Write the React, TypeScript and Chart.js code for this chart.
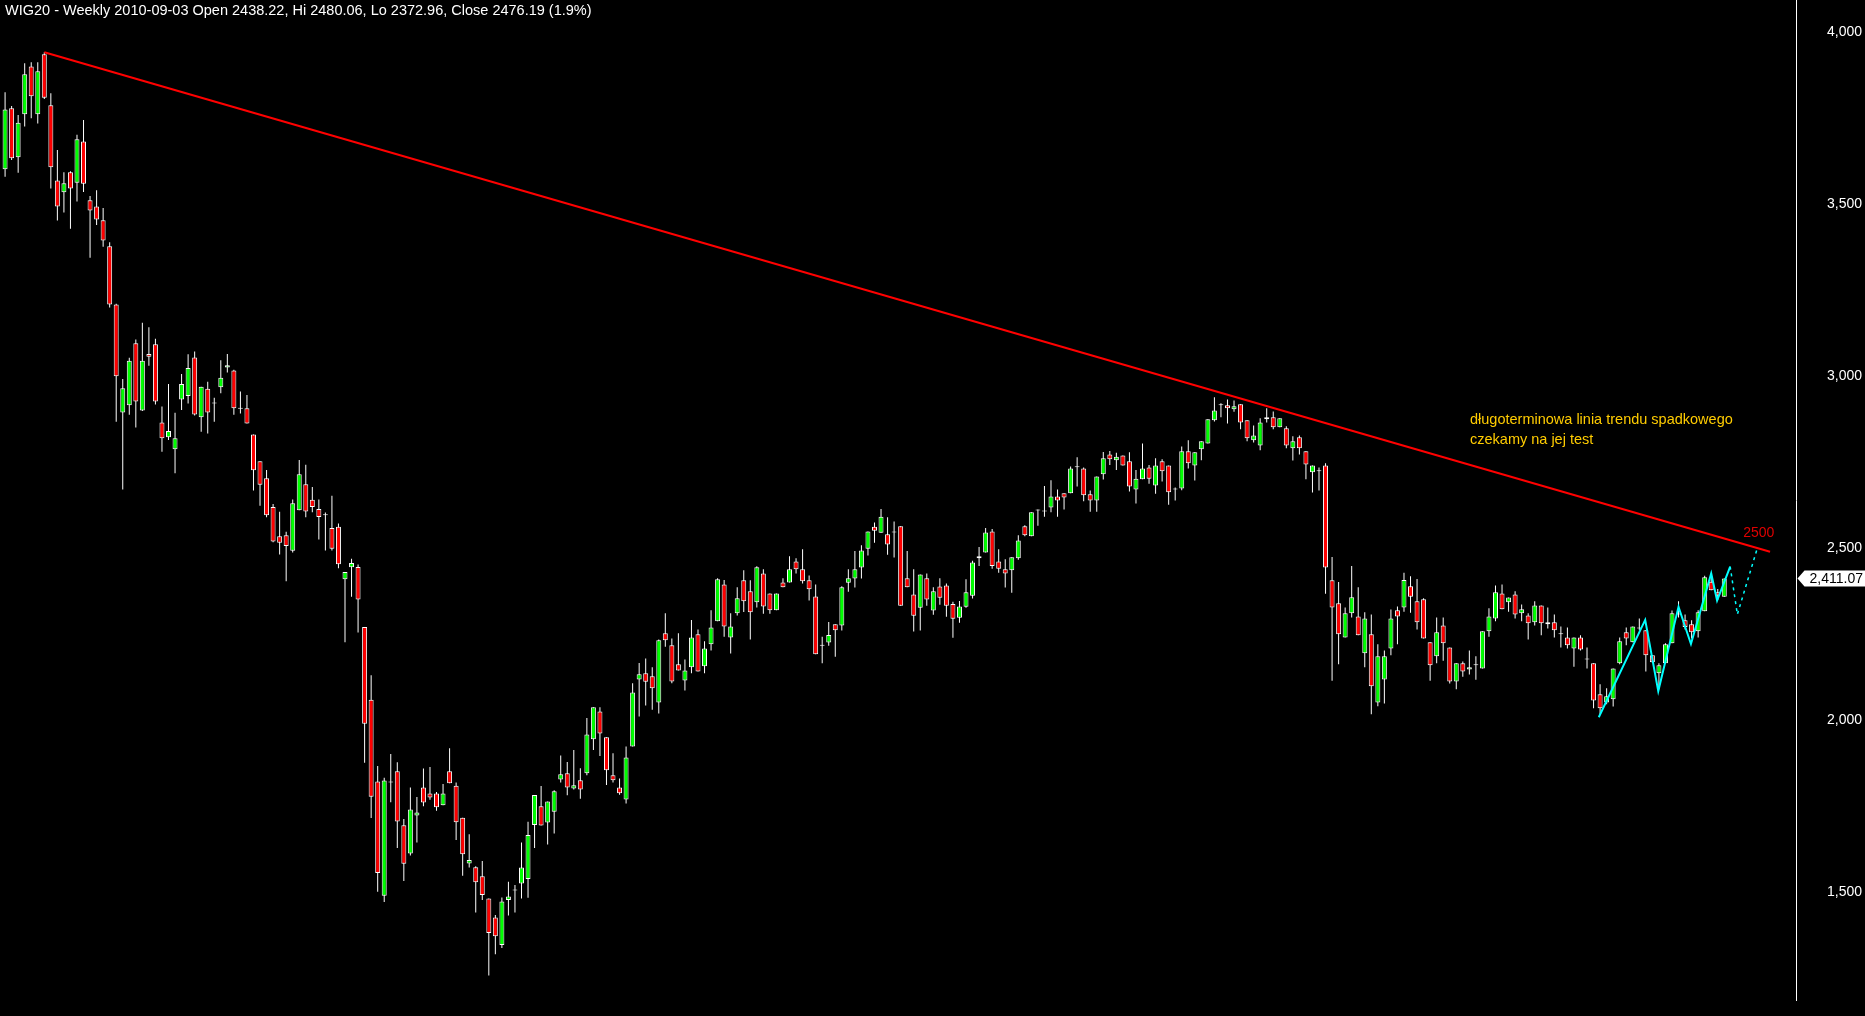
import React, { useEffect, useRef } from 'react';
import { Chart, registerables } from 'chart.js';

Chart.register(...registerables);

// Weekly WIG20 candles, index 0 = first week shown
const OPEN = [
  3601, 3778, 3636, 3761, 3900, 3761, 3935, 3787, 3568, 3534,
  3592, 3562, 3682, 3511, 3493, 3453, 3377, 3208, 2894, 2915,
  3095, 2900, 3064, 3092, 2865, 2822, 2787, 2932, 2942, 3054,
  2880, 2963, 2922, 2967, 3025, 3016, 2905, 2906, 2830, 2752,
  2703, 2619, 2534, 2537, 2492, 2610, 2685, 2640, 2613, 2595,
  2558, 2562, 2409, 2444, 2445, 2270, 2059, 1821, 1489, 1818,
  1851, 1694, 1612, 1722, 1804, 1786, 1786, 1752, 1851, 1809,
  1716, 1583, 1572, 1546, 1481, 1426, 1346, 1477, 1504, 1525,
  1538, 1695, 1749, 1702, 1733, 1827, 1845, 1801, 1825, 1845,
  1944, 2025, 1950, 1839, 1804, 1769, 1923, 2118, 2136, 2127,
  2051, 2252, 2217, 2162, 2115, 2153, 2249, 2156, 2220, 2287,
  2394, 2240, 2310, 2406, 2374, 2342, 2426, 2368, 2319, 2400,
  2400, 2461, 2438, 2406, 2359, 2216, 2225, 2278, 2275, 2399,
  2411, 2443, 2498, 2562, 2544, 2540, 2545, 2563, 2412, 2365,
  2326, 2412, 2318, 2388, 2391, 2337, 2297, 2329, 2361, 2476,
  2487, 2548, 2461, 2438, 2435, 2470, 2563, 2534, 2609, 2606,
  2618, 2650, 2659, 2659, 2735, 2731, 2656, 2638, 2714, 2772,
  2755, 2769, 2752, 2670, 2700, 2734, 2682, 2752, 2740, 2670,
  2673, 2781, 2740, 2787, 2804, 2871, 2915, 2915, 2903, 2918,
  2871, 2813, 2798, 2874, 2880, 2851, 2848, 2790, 2822, 2781,
  2720, 2723, 2740, 2406, 2339, 2240, 2310, 2301, 2194, 2249,
  2051, 2118, 2208, 2319, 2327, 2389, 2345, 2351, 2226, 2185,
  2275, 2211, 2112, 2165, 2147, 2159, 2150, 2258, 2295, 2368,
  2342, 2365, 2310, 2304, 2284, 2333, 2278, 2284, 2249, 2240,
  2208, 2240, 2176, 2165, 2075, 2051, 2060, 2165, 2255, 2226,
  2266, 2261, 2188, 2136, 2165, 2223, 2307, 2290, 2278, 2258,
  2316, 2402, 2371, 2358,
];
const HIGH = [
  3825, 3785, 3759, 3909, 3912, 3912, 3941, 3822, 3657, 3592,
  3595, 3701, 3744, 3523, 3540, 3488, 3389, 3210, 2991, 3053,
  3106, 3155, 3142, 3108, 2911, 2977, 2893, 3006, 3063, 3071,
  2969, 2983, 2937, 3046, 3064, 3018, 2955, 2945, 2830, 2752,
  2727, 2628, 2605, 2547, 2641, 2756, 2742, 2677, 2641, 2603,
  2652, 2571, 2430, 2469, 2452, 2270, 2130, 1866, 1832, 1901,
  1877, 1712, 1804, 1776, 1859, 1863, 1791, 1814, 1918, 1818,
  1716, 1668, 1575, 1590, 1481, 1433, 1484, 1530, 1520, 1644,
  1704, 1782, 1808, 1763, 1796, 1897, 1878, 1913, 1860, 2006,
  2037, 2037, 1950, 1903, 1830, 1923, 2107, 2166, 2179, 2153,
  2234, 2310, 2237, 2252, 2176, 2291, 2263, 2229, 2319, 2412,
  2407, 2310, 2386, 2435, 2406, 2447, 2438, 2368, 2368, 2412,
  2476, 2470, 2496, 2420, 2394, 2242, 2285, 2278, 2389, 2438,
  2491, 2508, 2548, 2574, 2613, 2589, 2577, 2563, 2491, 2438,
  2423, 2426, 2386, 2412, 2397, 2344, 2346, 2409, 2463, 2503,
  2558, 2555, 2496, 2467, 2473, 2537, 2566, 2604, 2612, 2680,
  2697, 2670, 2659, 2737, 2764, 2734, 2667, 2708, 2779, 2782,
  2777, 2769, 2778, 2727, 2804, 2741, 2761, 2758, 2740, 2676,
  2795, 2813, 2778, 2810, 2874, 2938, 2921, 2932, 2929, 2918,
  2871, 2856, 2877, 2906, 2897, 2877, 2854, 2825, 2827, 2781,
  2740, 2734, 2746, 2474, 2401, 2327, 2448, 2386, 2313, 2307,
  2220, 2202, 2321, 2330, 2428, 2418, 2410, 2354, 2226, 2298,
  2298, 2211, 2165, 2170, 2202, 2185, 2258, 2325, 2391, 2394,
  2356, 2374, 2336, 2310, 2345, 2333, 2327, 2307, 2272, 2269,
  2240, 2246, 2211, 2165, 2104, 2092, 2150, 2240, 2269, 2272,
  2295, 2261, 2188, 2165, 2223, 2318, 2345, 2307, 2290, 2319,
  2419, 2426, 2381, 2411.07,
];
const LOW = [
  3579, 3628, 3591, 3725, 3749, 3734, 3805, 3545, 3452, 3475,
  3428, 3507, 3535, 3344, 3439, 3376, 3199, 2867, 2670, 2887,
  2850, 2898, 3030, 2917, 2780, 2814, 2717, 2901, 2920, 2885,
  2838, 2833, 2867, 2950, 3010, 2887, 2891, 2862, 2667, 2623,
  2589, 2517, 2481, 2403, 2487, 2610, 2589, 2604, 2525, 2493,
  2493, 2441, 2226, 2358, 2254, 1876, 1715, 1501, 1471, 1761,
  1628, 1532, 1606, 1644, 1749, 1768, 1736, 1752, 1816, 1651,
  1547, 1571, 1440, 1477, 1257, 1319, 1337, 1432, 1440, 1481,
  1483, 1628, 1693, 1638, 1670, 1818, 1781, 1798, 1771, 1839,
  1913, 1895, 1811, 1818, 1783, 1757, 1923, 2010, 2042, 2030,
  2019, 2213, 2107, 2144, 2086, 2136, 2141, 2136, 2202, 2287,
  2242, 2193, 2304, 2314, 2234, 2327, 2309, 2309, 2319, 2386,
  2400, 2426, 2397, 2347, 2191, 2165, 2216, 2184, 2260, 2373,
  2385, 2411, 2478, 2515, 2544, 2480, 2472, 2332, 2386, 2257,
  2260, 2332, 2306, 2335, 2300, 2239, 2283, 2326, 2353, 2448,
  2487, 2440, 2428, 2385, 2370, 2466, 2534, 2534, 2565, 2591,
  2604, 2591, 2612, 2659, 2679, 2636, 2605, 2605, 2699, 2741,
  2727, 2740, 2664, 2629, 2700, 2687, 2658, 2693, 2626, 2638,
  2668, 2731, 2696, 2755, 2804, 2868, 2880, 2862, 2896, 2845,
  2810, 2807, 2784, 2865, 2845, 2851, 2790, 2754, 2772, 2700,
  2661, 2667, 2367, 2114, 2162, 2240, 2298, 2246, 2153, 2017,
  2040, 2048, 2188, 2220, 2315, 2312, 2263, 2237, 2114, 2165,
  2172, 2106, 2089, 2126, 2132, 2117, 2150, 2242, 2287, 2322,
  2315, 2295, 2287, 2234, 2275, 2246, 2266, 2240, 2211, 2208,
  2155, 2202, 2150, 2034, 2016, 2046, 2039, 2162, 2217, 2226,
  2261, 2141, 2166, 2089, 2165, 2223, 2298, 2263, 2237, 2240,
  2316, 2377, 2349, 2358,
];
const CLOSE = [
  3775, 3633, 3736, 3877, 3813, 3886, 3809, 3607, 3493, 3560,
  3545, 3688, 3559, 3481, 3455, 3394, 3208, 2999, 2964, 3044,
  2926, 3044, 3056, 2926, 2819, 2840, 2819, 2977, 3023, 2888,
  2969, 2894, 2920, 2995, 3031, 2906, 2905, 2862, 2726, 2684,
  2595, 2519, 2515, 2506, 2630, 2714, 2606, 2619, 2590, 2595,
  2498, 2453, 2430, 2456, 2350, 1989, 1777, 1555, 1824, 1818,
  1705, 1582, 1740, 1731, 1760, 1775, 1746, 1786, 1816, 1703,
  1610, 1593, 1528, 1491, 1381, 1371, 1472, 1487, 1504, 1571,
  1666, 1782, 1693, 1763, 1793, 1842, 1804, 1810, 1798, 1958,
  2037, 1961, 1854, 1825, 1787, 1891, 2080, 2133, 2111, 2092,
  2232, 2232, 2112, 2144, 2144, 2240, 2141, 2208, 2269, 2409,
  2272, 2272, 2354, 2345, 2313, 2444, 2330, 2319, 2368, 2386,
  2438, 2438, 2403, 2380, 2191, 2216, 2247, 2261, 2386, 2412,
  2438, 2493, 2548, 2550, 2591, 2510, 2545, 2332, 2386, 2303,
  2423, 2350, 2374, 2355, 2332, 2294, 2330, 2371, 2458, 2470,
  2545, 2448, 2440, 2426, 2473, 2522, 2537, 2604, 2609, 2606,
  2650, 2638, 2647, 2731, 2735, 2653, 2638, 2708, 2761, 2758,
  2765, 2740, 2679, 2701, 2731, 2701, 2740, 2723, 2662, 2670,
  2781, 2746, 2778, 2810, 2874, 2900, 2915, 2906, 2912, 2865,
  2819, 2827, 2865, 2880, 2851, 2877, 2798, 2810, 2790, 2743,
  2740, 2723, 2443, 2327, 2249, 2310, 2357, 2246, 2295, 2098,
  2185, 2185, 2295, 2301, 2407, 2358, 2284, 2237, 2159, 2255,
  2223, 2112, 2165, 2141, 2153, 2159, 2258, 2301, 2371, 2322,
  2356, 2307, 2322, 2281, 2333, 2281, 2284, 2261, 2249, 2217,
  2240, 2205, 2176, 2057, 2034, 2069, 2150, 2229, 2237, 2272,
  2266, 2188, 2168, 2159, 2220, 2310, 2307, 2270, 2255, 2313,
  2415, 2377, 2362, 2411.07,
];

const Y_TICKS = [1500, 2000, 2500, 3000, 3500, 4000];
const Y_MIN = 1186;
const Y_MAX = 4093;
const X_MIN = -0.777;
const X_MAX = 273.97;

// long-term downtrend line (week index, level)
const TREND_X = [6, 270];
const TREND_Y = [3941, 2489];
// cyan wave drawn on the chart, then its dotted projection
const WAVE_X = [243.8, 250.9, 252.9, 256, 257.9, 261, 261.9, 263.9];
const WAVE_Y = [2008, 2291, 2084, 2329, 2221, 2426, 2347, 2446];
const PROJ_X = [263.9, 265, 268];
const PROJ_Y = [2446, 2307, 2496];

const TITLE = 'WIG20 - Weekly 2010-09-03 Open 2438.22, Hi 2480.06, Lo 2372.96, Close 2476.19 (1.9%)';
const NOTE_LINES = ['długoterminowa linia trendu spadkowego', 'czekamy na jej test'];
const NOTE_AT = { x: 224.1, y: 2860 };
const LEVEL_TEXT = '2500';
const LEVEL_AT = { x: 265.9, y: 2533 };
const LAST_PRICE = 2411.07;

const GREEN = '#00ff00';
const RED = '#ff0000';
const FONT = '"Liberation Sans", Arial, sans-serif';

const overlayPlugin = {
  id: 'overlay',
  afterDraw(chart: any) {
    const { ctx, chartArea, scales } = chart;
    const x = scales.x;
    const y = scales.y;
    ctx.save();
    ctx.textAlign = 'left';
    ctx.textBaseline = 'alphabetic';
    // title
    ctx.font = '14.5px ' + FONT;
    ctx.fillStyle = '#ffffff';
    ctx.fillText(TITLE, 5, 15);
    // note
    ctx.font = '14.5px ' + FONT;
    ctx.fillStyle = '#ffcc00';
    const nx = x.getPixelForValue(NOTE_AT.x);
    const ny = y.getPixelForValue(NOTE_AT.y);
    NOTE_LINES.forEach((t, i) => ctx.fillText(t, nx, ny + i * 19.5));
    // level label
    ctx.font = '14px ' + FONT;
    ctx.fillStyle = '#e00000';
    ctx.fillText(LEVEL_TEXT, x.getPixelForValue(LEVEL_AT.x), y.getPixelForValue(LEVEL_AT.y));
    // last price marker
    const py = y.getPixelForValue(LAST_PRICE);
    const tip = chartArea.right + 1.5;
    ctx.fillStyle = '#ffffff';
    ctx.beginPath();
    ctx.moveTo(tip, py);
    ctx.lineTo(tip + 7, py - 8);
    ctx.lineTo(chart.width, py - 8);
    ctx.lineTo(chart.width, py + 8);
    ctx.lineTo(tip + 7, py + 8);
    ctx.closePath();
    ctx.fill();
    ctx.fillStyle = '#000000';
    ctx.font = '14px ' + FONT;
    ctx.textBaseline = 'middle';
    ctx.fillText(LAST_PRICE.toLocaleString('en-US', { minimumFractionDigits: 2 }), tip + 12, py + 1);
    ctx.restore();
  },
};

export default function App() {
  const ref = useRef<HTMLCanvasElement | null>(null);

  useEffect(() => {
    document.body.style.margin = '0';
    document.body.style.background = '#000000';
    const canvas = ref.current;
    if (!canvas) return;
    const idx = OPEN.map((_, i) => i);
    const bodyColors = OPEN.map((o, i) => (CLOSE[i] > o ? GREEN : CLOSE[i] < o ? RED : '#ffffff'));

    const chart = new Chart(canvas, {
      type: 'bar',
      data: {
        datasets: [
          {
            type: 'line',
            data: PROJ_X.map((v, i) => ({ x: v, y: PROJ_Y[i] })),
            borderColor: '#00ffff',
            borderWidth: 1.5,
            borderDash: [3, 4],
            pointRadius: 0,
            order: 1,
          } as any,
          {
            type: 'line',
            data: WAVE_X.map((v, i) => ({ x: v, y: WAVE_Y[i] })),
            borderColor: '#00ffff',
            borderWidth: 2,
            pointRadius: 0,
            order: 1,
          } as any,
          {
            type: 'line',
            data: TREND_X.map((v, i) => ({ x: v, y: TREND_Y[i] })),
            borderColor: '#ff0000',
            borderWidth: 2,
            pointRadius: 0,
            order: 2,
          } as any,
          {
            type: 'bar',
            data: idx.map((i) => ({ x: i, y: [OPEN[i], CLOSE[i]] })),
            backgroundColor: bodyColors,
            borderColor: '#ffffff',
            borderWidth: 1,
            borderSkipped: false,
            barThickness: 5,
            minBarLength: 1,
            grouped: false,
            inflateAmount: 0,
            order: 3,
          } as any,
          {
            type: 'bar',
            data: idx.map((i) => ({ x: i, y: [LOW[i], HIGH[i]] })),
            backgroundColor: '#ffffff',
            borderWidth: 0,
            barThickness: 1,
            grouped: false,
            inflateAmount: 0,
            order: 4,
          } as any,
        ],
      },
      options: {
        responsive: false,
        maintainAspectRatio: false,
        animation: false,
        devicePixelRatio: 1,
        layout: { padding: { top: 0, left: 0, right: 0, bottom: 16 } },
        plugins: { legend: { display: false }, tooltip: { enabled: false }, title: { display: false } },
        scales: {
          x: { type: 'linear', min: X_MIN, max: X_MAX, display: false, offset: false },
          y: {
            type: 'linear',
            position: 'right',
            min: Y_MIN,
            max: Y_MAX,
            grid: { display: true, drawOnChartArea: false, drawTicks: false, color: 'rgba(0,0,0,0)' },
            border: { display: true, color: '#ffffff', width: 1 },
            afterBuildTicks: (scale: any) => {
              scale.ticks = Y_TICKS.map((v) => ({ value: v }));
            },
            afterFit: (scale: any) => {
              scale.width = 69;
              scale.paddingTop = 0;
              scale.paddingBottom = 0;
            },
            ticks: {
              padding: 31,
              color: '#ffffff',
              font: { family: FONT, size: 14 },
              callback: (v: any) => Number(v).toLocaleString('en-US'),
            },
          },
        },
      },
      plugins: [overlayPlugin],
    } as any);
    return () => chart.destroy();
  }, []);

  return <canvas ref={ref} width={1865} height={1016} style={{ display: 'block', background: '#000000' }} />;
}
